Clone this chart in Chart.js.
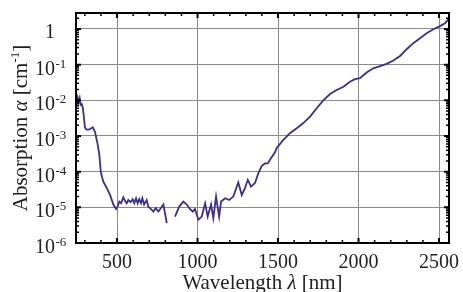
<!DOCTYPE html>
<html>
<head>
<meta charset="utf-8">
<script src="https://cdn.jsdelivr.net/npm/chart.js@4/dist/chart.umd.min.js"></script>
<style>
  html, body { margin: 0; padding: 0; background: #fff; }
  #wrap { width: 463px; height: 292px; }
</style>
</head>
<body>
<div id="wrap"><canvas id="absChart" width="463" height="292"></canvas></div>
<script>
// wavelength in nm, absorption coefficient in cm^-1 (null = gap in the measurement)
const wavelengths = [
  250, 255, 262, 268, 274, 281, 288, 301, 312, 322, 335, 349, 363, 378, 390, 399, 407, 415,
  436, 457, 477, 494, 505, 514, 525, 539, 550, 560, 570, 585, 597, 607, 618, 628, 638, 649,
  657, 668, 684, 694, 709, 726, 740, 757, 788, 809, 835, 860, 886, 912, 933, 953, 970, 984,
  1005, 1026, 1047, 1063, 1084, 1098, 1115, 1134, 1146, 1171, 1197, 1222, 1253, 1275, 1295,
  1312, 1332, 1357, 1378, 1399, 1419, 1436, 1457, 1481, 1492, 1533, 1574, 1616, 1657, 1699,
  1740, 1781, 1823, 1864, 1906, 1947, 1978, 2009, 2050, 2092, 2134, 2175, 2216, 2258, 2299,
  2340, 2382, 2423, 2465, 2506, 2537, 2558
];
const absorption = [
  9.0e-3, 1.2e-2, 9.0e-3, 1.15e-2, 7.5e-3, 7.8e-3, 6.0e-3, 1.7e-3, 1.5e-3, 1.5e-3, 1.6e-3,
  1.75e-3, 1.3e-3, 6.3e-4, 3.0e-4, 9.8e-5, 7.0e-5, 5.2e-5, 3.5e-5, 2.2e-5, 1.2e-5, 9.0e-6,
  1.1e-5, 1.45e-5, 1.3e-5, 1.9e-5, 1.5e-5, 1.3e-5, 1.6e-5, 1.4e-5, 1.7e-5, 1.3e-5, 1.8e-5,
  1.3e-5, 1.7e-5, 1.3e-5, 1.8e-5, 1.2e-5, 1.6e-5, 1.05e-5, 9.0e-6, 7.6e-6, 9.5e-6, 7.6e-6,
  1.2e-5, 3.6e-6, null, 5.5e-6, 1.05e-5, 1.45e-5, 1.2e-5, 9.0e-6, 7.6e-6, 9.0e-6, 4.5e-6,
  5.5e-6, 1.3e-5, 5.5e-6, 1.2e-5, 5.0e-6, 2.0e-5, 5.5e-6, 1.45e-5, 1.8e-5, 1.6e-5, 2.0e-5,
  5.0e-5, 2.2e-5, 3.5e-5, 5.9e-5, 3.8e-5, 4.8e-5, 9.1e-5, 1.45e-4, 1.7e-4, 1.7e-4, 2.4e-4,
  3.5e-4, 4.6e-4, 7.8e-4, 1.2e-3, 1.65e-3, 2.3e-3, 3.5e-3, 6.0e-3, 1.0e-2, 1.5e-2, 1.95e-2,
  2.4e-2, 3.3e-2, 3.9e-2, 4.2e-2, 6.0e-2, 7.9e-2, 9.1e-2, 0.105, 0.13, 0.175, 0.27, 0.40,
  0.55, 0.76, 0.98, 1.2, 1.45, 1.85
];
const xTickValues = [500, 1000, 1500, 2000, 2500];
const yTickExponents = [-6, -5, -4, -3, -2, -1, 0];

const SERIF = '"Liberation Serif", "DejaVu Serif", serif';

// draws text pieces one after another; each piece: [text, fontSize, italic, dy]
function drawPieces(ctx, pieces, x, y, align) {
  let total = 0;
  pieces.forEach(p => {
    ctx.font = (p[2] ? 'italic ' : '') + p[1] + 'px ' + SERIF;
    total += ctx.measureText(p[0]).width;
  });
  let cx = align === 'center' ? x - total / 2 : x;
  ctx.textAlign = 'left';
  pieces.forEach(p => {
    ctx.font = (p[2] ? 'italic ' : '') + p[1] + 'px ' + SERIF;
    ctx.fillText(p[0], cx, y + (p[3] || 0));
    cx += ctx.measureText(p[0]).width;
  });
}

const frameAndLabels = {
  id: 'frameAndLabels',
  afterDraw(chart) {
    const ctx = chart.ctx;
    const a = chart.chartArea;
    const xs = chart.scales.x;
    const ys = chart.scales.y;
    ctx.save();
    ctx.strokeStyle = '#000';
    ctx.fillStyle = '#000';

    // x ticks (inward, bottom and top)
    for (let v = 300; v <= 2500; v += 100) {
      const major = v % 500 === 0;
      const px = xs.getPixelForValue(v);
      const len = major ? 5 : 3;
      ctx.lineWidth = major ? 2 : 1.5;
      ctx.beginPath();
      ctx.moveTo(px, a.bottom); ctx.lineTo(px, a.bottom - len);
      ctx.moveTo(px, a.top); ctx.lineTo(px, a.top + len);
      ctx.stroke();
    }
    // y ticks (log, inward, left and right)
    yTickExponents.forEach(e => {
      for (let m = 1; m <= 9; m++) {
        const v = m * Math.pow(10, e);
        if (v > ys.max) break;
        const py = ys.getPixelForValue(v);
        const major = m === 1;
        const len = major ? 5 : 3;
        ctx.lineWidth = major ? 2 : 1.5;
        ctx.beginPath();
        ctx.moveTo(a.left, py); ctx.lineTo(a.left + len, py);
        ctx.moveTo(a.right, py); ctx.lineTo(a.right - len, py);
        ctx.stroke();
      }
    });

    // frame
    ctx.lineWidth = 2;
    ctx.strokeRect(a.left, a.top, a.right - a.left, a.bottom - a.top);

    // tick labels
    ctx.fillStyle = '#222';
    ctx.textBaseline = 'alphabetic';
    ctx.font = '20px ' + SERIF;
    ctx.textAlign = 'center';
    xTickValues.forEach(v => {
      ctx.fillText(String(v), xs.getPixelForValue(v), 268);
    });
    yTickExponents.forEach(e => {
      const py = ys.getPixelForValue(Math.pow(10, e));
      ctx.font = '20px ' + SERIF;
      ctx.textAlign = 'right';
      if (e === 0) {
        ctx.fillText('1', 55, py + 9);
      } else {
        ctx.fillText('10', 55, py + 10);
        ctx.font = '13px ' + SERIF;
        ctx.textAlign = 'left';
        ctx.fillText('-' + (-e), 55.5, py + 3);
      }
    });

    // axis titles
    drawPieces(ctx, [
      ['Wavelength ', 21, false],
      ['\u03bb', 21, true],
      [' [nm]', 21, false]
    ], (a.left + a.right) / 2, 289, 'center');

    ctx.translate(27, (a.top + a.bottom) / 2);
    ctx.rotate(-Math.PI / 2);
    drawPieces(ctx, [
      ['Absorption ', 21, false],
      ['\u03b1', 21, true],
      [' [cm', 21, false],
      ['-1', 13, false, -8],
      [']', 21, false]
    ], 0, 0, 'center');
    ctx.restore();
  }
};

const points = wavelengths.map((w, i) => ({ x: w, y: absorption[i] }));

new Chart(document.getElementById('absChart'), {
  type: 'line',
  data: {
    datasets: [{
      data: points,
      borderColor: '#3a2e96',
      borderWidth: 1.8,
      pointRadius: 0,
      tension: 0,
      spanGaps: false
    }]
  },
  options: {
    responsive: false,
    animation: false,
    layout: { padding: { top: 13, right: 14, left: 0, bottom: 0 } },
    plugins: { legend: { display: false }, tooltip: { enabled: false } },
    scales: {
      x: {
        type: 'linear',
        min: 245,
        max: 2562,
        afterBuildTicks: scale => { scale.ticks = xTickValues.map(v => ({ value: v })); },
        afterFit: scale => { scale.height = 49; },
        ticks: { display: false },
        grid: { color: '#8a8a8a', lineWidth: 1, drawTicks: false },
        border: { display: false }
      },
      y: {
        type: 'logarithmic',
        min: 1e-6,
        max: 2.8,
        afterBuildTicks: scale => {
          scale.ticks = yTickExponents.map(e => ({ value: Math.pow(10, e) }));
        },
        afterFit: scale => { scale.width = 76; },
        ticks: { display: false },
        grid: { color: '#8a8a8a', lineWidth: 1, drawTicks: false },
        border: { display: false }
      }
    }
  },
  plugins: [frameAndLabels]
});
</script>
</body>
</html>
